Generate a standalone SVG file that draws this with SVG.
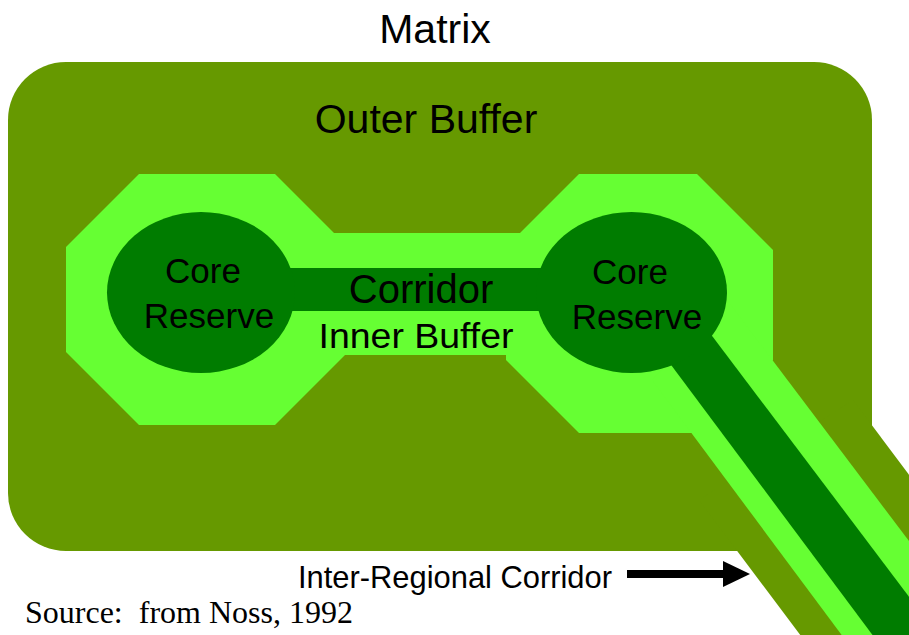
<svg xmlns="http://www.w3.org/2000/svg" width="909" height="635" viewBox="0 0 909 635">
  <style>
    .olive { fill: #669900; }
    .light { fill: #66FF33; }
    .dark { fill: #007C00; }
    .lbl { font-family: "Liberation Sans", Arial, sans-serif; fill: #000000; text-anchor: middle; }
    .src { font-family: "Liberation Serif", "Times New Roman", serif; fill: #000000; }
  </style>
  <defs>
    <marker id="arrowhead" markerWidth="28" markerHeight="26" refX="0" refY="13" orient="auto" markerUnits="userSpaceOnUse">
      <polygon points="0,0 27,13 0,26" fill="#000000"/>
    </marker>
  </defs>
  <rect width="909" height="635" fill="#FFFFFF"/>

  <g id="matrix">
    <text class="lbl" x="435" y="43" font-size="41">Matrix</text>
  </g>

  <g id="outer-buffer">
    <rect class="olive" x="8" y="62" width="864" height="489" rx="58" ry="58"/>
    <polygon class="olive" points="699,500 853,400 1078,700 849,700"/>
    <text class="lbl" x="426" y="133" font-size="41">Outer Buffer</text>
  </g>

  <g id="inner-buffer">
    <polygon class="light" points="139,174 275,174 348,247 348,352 275,425 139,425 66,352 66,247"/>
    <polygon class="light" points="579,174 697,174 773,250 773,360 700,433 579,433 506,360 506,247"/>
    <rect class="light" x="320" y="233" width="210" height="122"/>
    <polygon class="light" points="652,380 727,300 1029,700 890,700"/>
    <text class="lbl" x="416" y="348" font-size="35" textLength="195" lengthAdjust="spacingAndGlyphs">Inner Buffer</text>
  </g>

  <g id="corridor">
    <rect class="dark" x="280" y="268" width="270" height="43"/>
    <polygon class="dark" points="645,330 685,300 987,700 921,700"/>
    <text class="lbl" x="421" y="303" font-size="40">Corridor</text>
  </g>

  <g id="core-reserve-left">
    <ellipse class="dark" cx="201" cy="292.5" rx="94" ry="80.5"/>
    <text class="lbl" x="203" y="283" font-size="35">Core</text>
    <text class="lbl" x="209" y="328" font-size="35">Reserve</text>
  </g>

  <g id="core-reserve-right">
    <ellipse class="dark" cx="631.5" cy="292.5" rx="95.5" ry="80.5"/>
    <text class="lbl" x="630" y="284" font-size="35">Core</text>
    <text class="lbl" x="637" y="329" font-size="35">Reserve</text>
  </g>

  <g id="inter-regional-label">
    <text class="lbl" x="455" y="588" font-size="31.5" textLength="314" lengthAdjust="spacingAndGlyphs">Inter-Regional Corridor</text>
  </g>

  <g id="connectors">
    <line x1="627" y1="574" x2="723" y2="574" stroke="#000000" stroke-width="8" marker-end="url(#arrowhead)"/>
  </g>

  <g id="source">
    <text class="src" x="25" y="623" font-size="32" xml:space="preserve">Source:  from Noss, 1992</text>
  </g>
</svg>
